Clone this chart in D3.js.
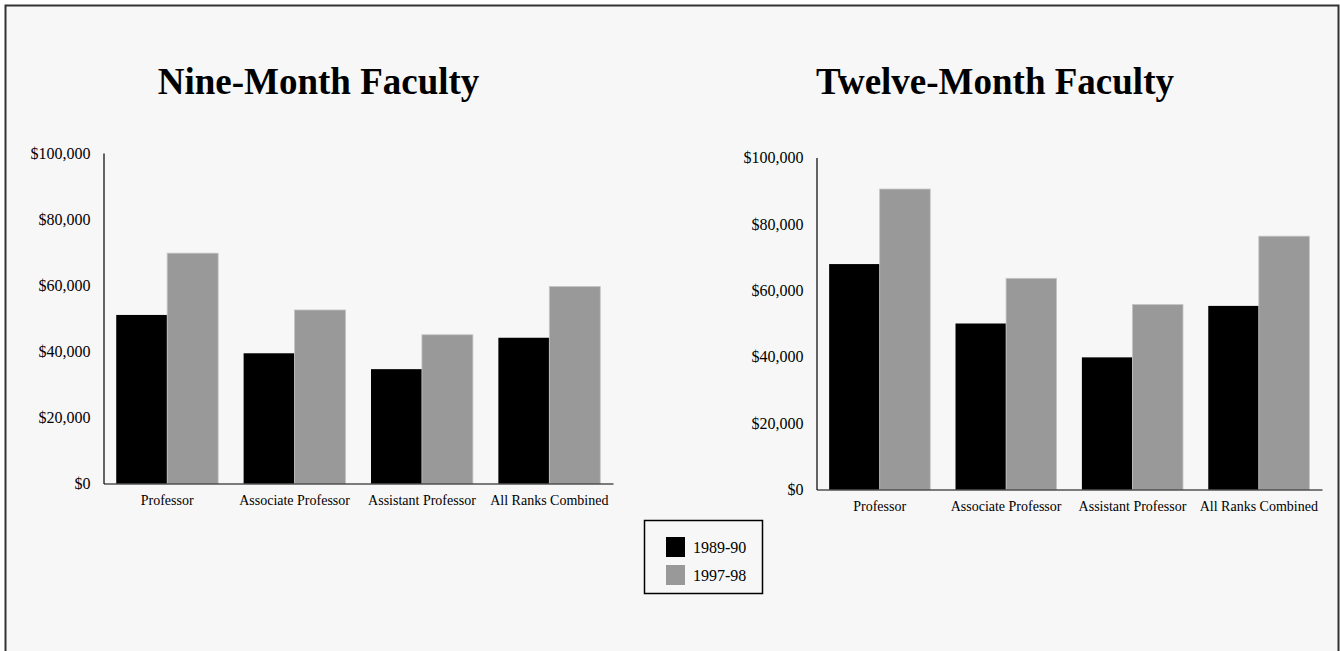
<!DOCTYPE html>
<html>
<head>
<meta charset="utf-8">
<script src="https://cdn.jsdelivr.net/npm/d3@7"></script>
<style>
  html, body { margin: 0; padding: 0; background: #ffffff; }
  svg { display: block; }
  text { font-family: "Liberation Serif", "Times New Roman", serif; fill: #000; }
</style>
</head>
<body>
<svg id="chart" width="1340" height="651"></svg>
<script>
const categories = ["Professor", "Associate Professor", "Assistant Professor", "All Ranks Combined"];
const seriesNames = ["1989-90", "1997-98"];
const seriesColors = ["#000000", "#999999"];
const nineMonth1989 = [51000, 39400, 34600, 44100];
const nineMonth1997 = [69700, 52500, 45000, 59600];
const twelveMonth1989 = [67900, 50000, 39800, 55300];
const twelveMonth1997 = [90500, 63600, 55700, 76300];
const yTicks = [0, 20000, 40000, 60000, 80000, 100000];
const titles = ["Nine-Month Faculty", "Twelve-Month Faculty"];

const svg = d3.select("#chart");

// frame
svg.append("rect")
  .attr("x", 5.5).attr("y", 5.5)
  .attr("width", 1333).attr("height", 700)
  .attr("fill", "#f7f7f7")
  .attr("stroke", "#333").attr("stroke-width", 2);

const panels = [
  { title: titles[0], a: nineMonth1989, b: nineMonth1997, x0: 103.5, x1: 613, yTop: 153, yBot: 483.5, titleX: 318.5, titleY: 94 },
  { title: titles[1], a: twelveMonth1989, b: twelveMonth1997, x0: 816.5, x1: 1322, yTop: 157.5, yBot: 489.5, titleX: 995, titleY: 94 }
];

const fmt = d => "$" + d3.format(",")(d);

panels.forEach(p => {
  const g = svg.append("g");
  const x = d3.scaleBand().domain(categories).range([p.x0, p.x1]).paddingInner(0.2).paddingOuter(0.1);
  const x1 = d3.scaleBand().domain(seriesNames).range([0, x.bandwidth()]);
  const y = d3.scaleLinear().domain([0, 100000]).range([p.yBot, p.yTop]);

  g.append("text")
    .attr("x", p.titleX).attr("y", p.titleY)
    .attr("text-anchor", "middle")
    .style("font-size", "37px").style("font-weight", "bold")
    .text(p.title);

  const rows = categories.map((c, i) => ({ cat: c, vals: [p.a[i], p.b[i]] }));
  const grp = g.selectAll("g.grp").data(rows).join("g")
    .attr("transform", d => `translate(${x(d.cat)},0)`);
  grp.selectAll("rect").data(d => d.vals.map((v, j) => ({ v, s: seriesNames[j], j })))
    .join("rect")
    .attr("x", d => x1(d.s))
    .attr("y", d => y(d.v))
    .attr("width", x1.bandwidth())
    .attr("height", d => y(0) - y(d.v))
    .attr("fill", d => seriesColors[d.j])
    .attr("stroke", d => d.j === 1 ? "#c4c4c4" : "none")
    .attr("stroke-width", 0.8);

  // y axis
  const yAxis = g.append("g").attr("transform", `translate(${p.x0},0)`)
    .call(d3.axisLeft(y).tickValues(yTicks).tickFormat(fmt).tickSize(0).tickPadding(13));
  yAxis.select(".domain").attr("stroke", "#000").attr("stroke-width", 1.2);
  yAxis.selectAll("text").style("font-size", "16px").attr("font-family", null);

  // x axis
  const xAxis = g.append("g").attr("transform", `translate(0,${p.yBot})`)
    .call(d3.axisBottom(x).tickSize(0).tickPadding(12));
  xAxis.select(".domain").attr("stroke", "#000").attr("stroke-width", 1.2);
  xAxis.selectAll("text").style("font-size", "14px").attr("font-family", null);
});

// legend
const lg = svg.append("g");
lg.append("rect")
  .attr("x", 644.5).attr("y", 520.5).attr("width", 118).attr("height", 73)
  .attr("fill", "#f7f7f7").attr("stroke", "#000").attr("stroke-width", 1.5);
const ly = d3.scalePoint().domain(seriesNames).range([547, 575]);
seriesNames.forEach((s, i) => {
  lg.append("rect").attr("x", 666).attr("y", ly(s) - 10).attr("width", 19).attr("height", 20)
    .attr("fill", seriesColors[i]);
  lg.append("text").attr("x", 693).attr("y", ly(s)).attr("dy", "0.35em")
    .style("font-size", "16px").text(s);
});
</script>
</body>
</html>
